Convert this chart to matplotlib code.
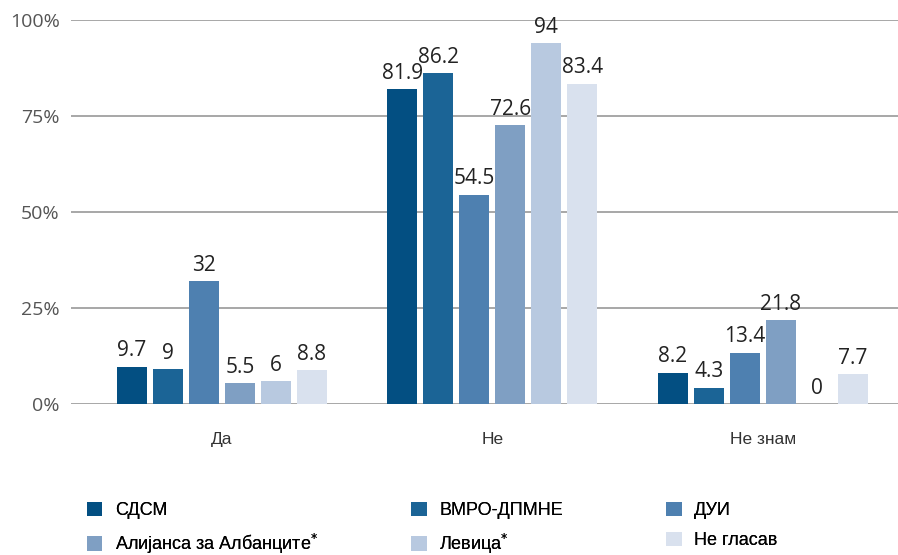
import numpy as np
import matplotlib.pyplot as plt

# Survey answers by party
categories = ["Да", "Не", "Не знам"]
parties = ["СДСМ", "ВМРО-ДПМНЕ", "ДУИ", "Алијанса за Албанците$^{*}$", "Левица$^{*}$", "Не гласав"]
values = [
    [9.7, 81.9, 8.2],
    [9, 86.2, 4.3],
    [32, 54.5, 13.4],
    [5.5, 72.6, 21.8],
    [6, 94, 0],
    [8.8, 83.4, 7.7],
]
colors = ["#034f82", "#1b6496", "#4e80b0", "#7f9fc3", "#b8c9e0", "#d9e1ee"]
yticks = [0, 25, 50, 75, 100]

fig = plt.figure(figsize=(8.98, 5.55), dpi=100)
ax = fig.add_axes([0.079, 0.272, 0.921, 0.692])

x = np.arange(len(categories))
step = 0.133
width = 0.111
for i, (name, vals) in enumerate(zip(parties, values)):
    pos = x + (i - 2.5) * step
    bars = ax.bar(pos, vals, width, color=colors[i], label=name, zorder=3)
    for b, v in zip(bars, vals):
        ax.text(b.get_x() + b.get_width() / 2, v + 1.4, f"{v:g}",
                ha="center", va="bottom", fontsize=15, color="#222222",
                family="Open Sans", zorder=4)

ax.set_xlim(-0.558, 2.5)
ax.set_ylim(0, 100)
ax.set_yticks(yticks)
ax.set_yticklabels([f"{t}%" for t in yticks], fontsize=14, color="#555555", family="Open Sans")
ax.set_xticks(x)
ax.set_xticklabels(categories, fontsize=12.5, color="#333333", family="Liberation Sans")
ax.tick_params(axis="both", length=0)
ax.tick_params(axis="y", pad=8)
ax.tick_params(axis="x", pad=20)
ax.grid(axis="y", color="#a0a0a0", linewidth=1.3, zorder=0)
for s in ax.spines.values():
    s.set_visible(False)

# legend: three columns, placed by hand like the original
handles, labels = ax.get_legend_handles_labels()
col_x = [0.097, 0.458, 0.742]
for c in range(3):
    idx = [c, c + 3]
    leg = fig.legend([handles[k] for k in idx], [labels[k] for k in idx],
                     loc="upper left", bbox_to_anchor=(col_x[c], 0.096),
                     frameon=False, handlelength=0.85, handleheight=0.85,
                     handletextpad=0.7, labelspacing=0.7, borderaxespad=0,
                     borderpad=0, prop={"family": "Liberation Sans", "size": 13})
    fig.add_artist(leg)

fig.savefig("out.png", dpi=100)
